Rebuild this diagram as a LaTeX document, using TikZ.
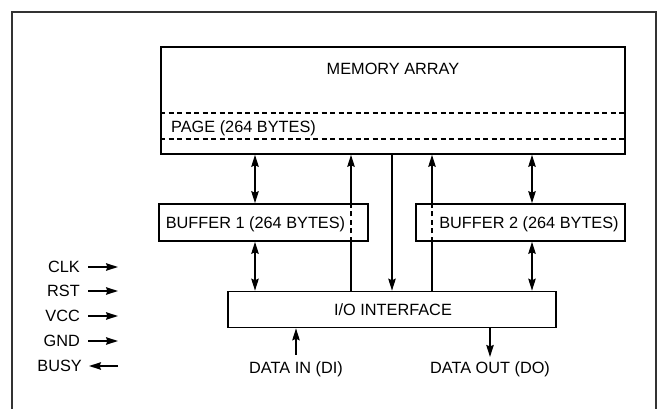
\documentclass[tikz,border=0pt]{standalone}
\usepackage{fontspec}
\setmainfont{Liberation Sans}
\usetikzlibrary{positioning, arrows.meta}

\begin{document}
\begin{tikzpicture} [ x=1pt, y=-1pt
                    , font=\fontsize{16.3}{19}\selectfont
                    , box/.style={draw, line width=1.7pt, inner sep=0pt}
                    , lbl/.style={inner sep=0pt, text height=11.7pt, text depth=0pt}
                    , wire/.style={line width=1.4pt}
                    , toarrow/.style={-{Stealth[length=12pt, width=7.5pt, inset=1.5pt]}}
                    , dblarrow/.style={{Stealth[length=12pt, width=7.5pt, inset=1.5pt]}-{Stealth[length=12pt, width=7.5pt, inset=1.5pt]}}
                    , dashedline/.style={line width=1.4pt, dash pattern=on 5pt off 3.5pt}
                    ]

  \useasboundingbox (0,0) rectangle (659,409);

  % --- Outer frame -----------------------------------------------------------
  \draw [line width=1.8pt, black!80] (12,409) -- (12,12) -- (656,12) -- (656,409);
  % ---------------------------------------------------------------------------

  % --- Memory Array ----------------------------------------------------------
  \node [ box
        , minimum width=464pt
        , minimum height=107pt
        ]
        (MA) at (393,100.5) {};

  \node [ lbl ] (MAtext) at (393,69) {MEMORY ARRAY};

  \draw [dashedline] (MA.west |- 0,113) -- (MA.east |- 0,113);
  \draw [dashedline] (MA.west |- 0,139) -- (MA.east |- 0,139);

  \node [ lbl
        , anchor=west
        ]
        (Page) at (171,127) {PAGE (264 BYTES)};
  % ---------------------------------------------------------------------------

  % --- Buffers ---------------------------------------------------------------
  \node [ box
        , minimum width=209pt
        , minimum height=37pt
        ]
        (B1) at (263.5,222.5) {};

  \node [ lbl ] (B1text) at (255.5,222.5) {BUFFER 1 (264 BYTES)};

  \node [ box
        , minimum width=209pt
        , minimum height=37pt
        ]
        (B2) at (520.5,222.5) {};

  \node [ lbl ] (B2text) at (529,222.5) {BUFFER 2 (264 BYTES)};
  % ---------------------------------------------------------------------------

  % --- I/O Interface ---------------------------------------------------------
  \node [ box
        , minimum width=328pt
        , minimum height=36pt
        ]
        (IO) at (392,309.5) {};

  \node [ lbl ] (IOtext) at (393,310) {I/O INTERFACE};

  \node [ lbl ] (DI) at (296,368) {DATA IN (DI)};
  \node [ lbl ] (DO) at (490,368) {DATA OUT (DO)};
  % ---------------------------------------------------------------------------

  % --- Data paths ------------------------------------------------------------
  \draw [wire, dblarrow] (MA.south -| 255,0) -- (B1.north -| 255,0);
  \draw [wire, dblarrow] (B1.south -| 255,0) -- (IO.north -| 255,0);

  \draw [wire] (IO.north -| 351,0) -- (B1.south -| 351,0);
  \draw [dashedline] (B1.south -| 351,0) -- (B1.north -| 351,0);
  \draw [wire, toarrow] (B1.north -| 351,0) -- (MA.south -| 351,0);

  \draw [wire, toarrow] (MA.south -| 392,0) -- (IO.north -| 392,0);

  \draw [wire] (IO.north -| 432,0) -- (B2.south -| 432,0);
  \draw [dashedline] (B2.south -| 432,0) -- (B2.north -| 432,0);
  \draw [wire, toarrow] (B2.north -| 432,0) -- (MA.south -| 432,0);

  \draw [wire, dblarrow] (MA.south -| 532,0) -- (B2.north -| 532,0);
  \draw [wire, dblarrow] (B2.south -| 532,0) -- (IO.north -| 532,0);

  \draw [wire, toarrow] ([yshift=7pt]DI.north) -- (IO.south -| DI.north);
  \draw [wire, toarrow] (IO.south -| DO.north) -- ([yshift=5pt]DO.north);
  % ---------------------------------------------------------------------------

  % --- Pins ------------------------------------------------------------------
  \node [ lbl, anchor=east ] (CLK)  at (80,267) {CLK};
  \node [ lbl, anchor=east ] (RST)  at (80,291) {RST};
  \node [ lbl, anchor=east ] (VCC)  at (80,316) {VCC};
  \node [ lbl, anchor=east ] (GND)  at (80,341) {GND};
  \node [ lbl, anchor=east ] (BUSY) at (82,366) {BUSY};

  \coordinate (CLKend)  at (118,267);
  \coordinate (RSTend)  at (118,291);
  \coordinate (VCCend)  at (118,316);
  \coordinate (GNDend)  at (118,341);
  \coordinate (BUSYend) at (118,366);

  \draw [wire, toarrow] ([xshift=8pt]CLK.east) -- (CLKend);
  \draw [wire, toarrow] ([xshift=8pt]RST.east) -- (RSTend);
  \draw [wire, toarrow] ([xshift=8pt]VCC.east) -- (VCCend);
  \draw [wire, toarrow] ([xshift=8pt]GND.east) -- (GNDend);
  \draw [wire, toarrow] (BUSYend) -- ([xshift=7pt]BUSY.east);
  % ---------------------------------------------------------------------------
\end{tikzpicture}
\end{document}
